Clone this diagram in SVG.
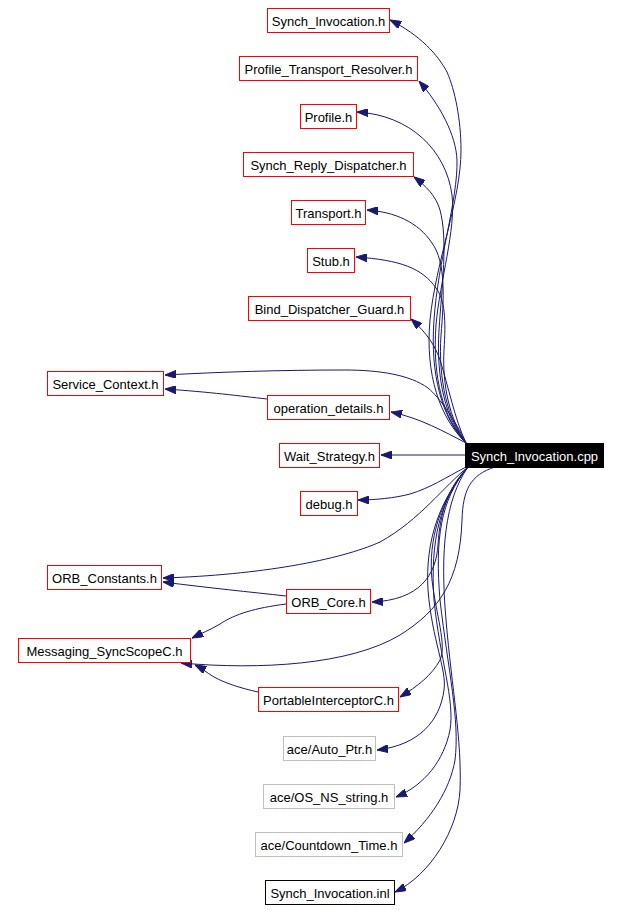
<svg xmlns="http://www.w3.org/2000/svg" width="622" height="910" viewBox="0 0 622 910">
<style>
.n rect{fill:#fff;stroke:#ff0000;stroke-width:1}
.g rect{stroke:#bfbfbf}
.k rect{stroke:#000}
.c rect{fill:#000;stroke:#000}
text{font-family:"Liberation Sans",Arial,Helvetica,sans-serif;font-size:13px;text-anchor:middle;fill:#000}
.c text{fill:#fff}
#edges path{fill:none;stroke:#191970;stroke-width:1;marker-end:url(#ah)}
</style>
<defs>
<marker id="ah" markerUnits="userSpaceOnUse" markerWidth="11" markerHeight="8" refX="11" refY="4" orient="auto">
<path d="M0,0 L11,4 L0,8 z" fill="#191970" stroke="#191970"/>
</marker>
</defs>
<rect width="622" height="910" fill="#fff"/>
<g id="edges">
<path d="M466,443 C440,418 425,375 430,320 C436,260 461,200 461,150 C461,120 455,90 447,72 C438,55 420,35 390,20"/>
<path d="M466,443 C442,418 430,375 434,320 C438,260 458,200 457,160 C456,135 440,105 419,81"/>
<path d="M466,443 C444,420 432,378 436,325 C440,280 456,230 452,195 C446,150 410,115 357,112"/>
<path d="M466,443 C446,420 436,380 439,330 C442,285 448,240 440,210 C436,196 426,186 414,177"/>
<path d="M466,443 C448,420 438,380 441,335 C444,300 446,262 432,243 C418,222 395,212 367,210"/>
<path d="M466,443 C450,420 442,385 444,350 C446,320 445,300 436,288 C422,268 400,260 356,257"/>
<path d="M466,443 C455,420 448,385 440,360 C435,346 428,334 411,319"/>
<path d="M466,443 C455,420 440,398 428,388 C410,375 380,370 345,370 C280,370 220,372 165,375"/>
<path d="M466,443 C445,432 420,418 391,412"/>
<path d="M267,399 C240,396 210,392 165,389"/>
<path d="M465,455 L381,455"/>
<path d="M466,467 C445,478 430,488 410,494 C395,498 375,500 358,500"/>
<path d="M468,467 C445,485 420,520 380,542 C340,560 260,575 163,578"/>
<path d="M468,467 C450,485 440,510 438,545 C436,575 420,600 372,602"/>
<path d="M286,596 C250,592 210,588 163,582"/>
<path d="M286,604 C255,608 235,614 220,624 C210,630 200,634 192,638"/>
<path d="M495,467 C470,475 463,490 462,520 C460,580 440,610 400,635 C350,665 260,670 181,663"/>
<path d="M258,692 C240,688 225,683 214,677 C206,672 201,668 195,665"/>
<path d="M468,467 C440,500 428,540 432,580 C436,615 447,645 440,660 C432,675 418,686 400,697"/>
<path d="M468,467 C440,500 425,540 428,590 C432,640 447,670 444,690 C440,720 420,745 377,750"/>
<path d="M468,467 C440,500 430,540 434,600 C440,660 455,700 450,730 C444,760 425,785 396,797"/>
<path d="M468,467 C440,500 435,540 440,600 C448,670 460,720 455,760 C450,790 430,820 404,843"/>
<path d="M468,467 C445,500 440,550 446,620 C452,690 462,740 460,790 C458,830 430,875 395,892"/>
</g>
<g id="n_synch_invocation_h" class="n"><rect x="267.5" y="8.5" width="122" height="24"/><text x="328.5" y="25.5">Synch_Invocation.h</text></g>
<g id="n_profile_transport_resolver_h" class="n"><rect x="239.5" y="56.5" width="178" height="24"/><text x="328.5" y="73.5">Profile_Transport_Resolver.h</text></g>
<g id="n_profile_h" class="n"><rect x="300.5" y="104.5" width="56" height="24"/><text x="328.5" y="121.5">Profile.h</text></g>
<g id="n_synch_reply_dispatcher_h" class="n"><rect x="243.5" y="152.5" width="170" height="24"/><text x="328.5" y="169.5">Synch_Reply_Dispatcher.h</text></g>
<g id="n_transport_h" class="n"><rect x="291.5" y="200.5" width="74" height="24"/><text x="328.5" y="217.5">Transport.h</text></g>
<g id="n_stub_h" class="n"><rect x="307.5" y="248.5" width="47" height="24"/><text x="331" y="265.5">Stub.h</text></g>
<g id="n_bind_dispatcher_guard_h" class="n"><rect x="248.5" y="296.5" width="162" height="24"/><text x="329.5" y="313.5">Bind_Dispatcher_Guard.h</text></g>
<g id="n_service_context_h" class="n"><rect x="47.5" y="371.5" width="116" height="24"/><text x="105.5" y="388.5">Service_Context.h</text></g>
<g id="n_operation_details_h" class="n"><rect x="267.5" y="395.5" width="122" height="24"/><text x="328.5" y="412.5">operation_details.h</text></g>
<g id="n_wait_strategy_h" class="n"><rect x="279.5" y="443.5" width="100" height="24"/><text x="329.5" y="460.5">Wait_Strategy.h</text></g>
<g id="n_synch_invocation_cpp" class="n c"><rect x="465.5" y="443.5" width="138" height="24"/><text x="534.5" y="460.5">Synch_Invocation.cpp</text></g>
<g id="n_debug_h" class="n"><rect x="300.5" y="491.5" width="57" height="24"/><text x="329" y="508.5">debug.h</text></g>
<g id="n_orb_constants_h" class="n"><rect x="47.5" y="565.5" width="114" height="24"/><text x="104.5" y="582.5">ORB_Constants.h</text></g>
<g id="n_orb_core_h" class="n"><rect x="286.5" y="589.5" width="84" height="24"/><text x="328.5" y="606.5">ORB_Core.h</text></g>
<g id="n_messaging_syncscopec_h" class="n"><rect x="18.5" y="638.5" width="172" height="24"/><text x="104.5" y="655.5">Messaging_SyncScopeC.h</text></g>
<g id="n_portableinterceptorc_h" class="n"><rect x="258.5" y="687.5" width="140" height="24"/><text x="328.5" y="704.5">PortableInterceptorC.h</text></g>
<g id="n_ace_auto_ptr_h" class="n g"><rect x="283.5" y="736.5" width="92" height="24"/><text x="329.5" y="753.5">ace/Auto_Ptr.h</text></g>
<g id="n_ace_os_ns_string_h" class="n g"><rect x="263.5" y="784.5" width="131" height="24"/><text x="329" y="801.5">ace/OS_NS_string.h</text></g>
<g id="n_ace_countdown_time_h" class="n g"><rect x="255.5" y="832.5" width="147" height="24"/><text x="329" y="849.5">ace/Countdown_Time.h</text></g>
<g id="n_synch_invocation_inl" class="n k"><rect x="265.5" y="880.5" width="129" height="24"/><text x="330" y="897.5">Synch_Invocation.inl</text></g>
</svg>
